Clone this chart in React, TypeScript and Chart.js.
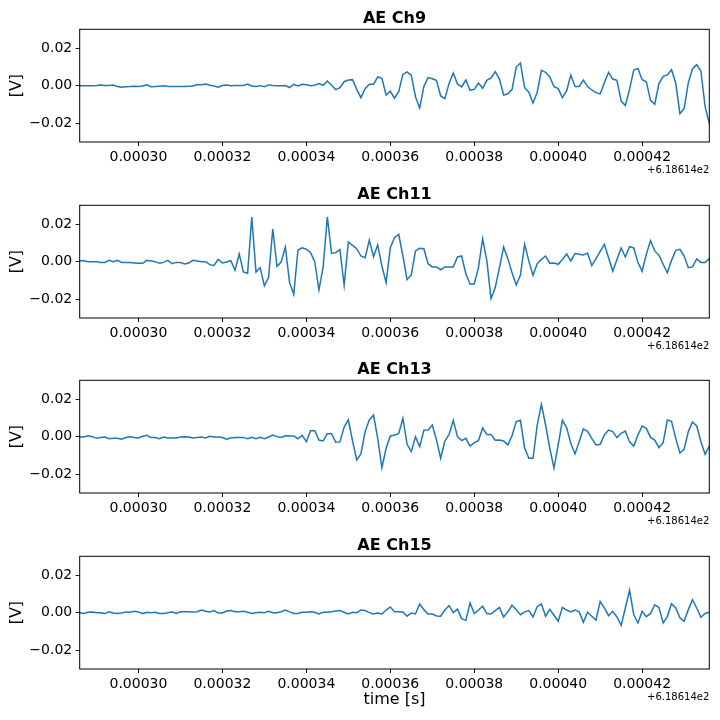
import React, { useEffect, useRef } from "react";
import { Chart, registerables } from "chart.js";

Chart.register(...registerables);

// ---- data (time in µs after offset 6.18614e2 s, values in mV) ----
const channelTitles = ["AE Ch9", "AE Ch11", "AE Ch13", "AE Ch15"];
const sampleTimesUs = Array.from({ length: 151 }, (_, i) => 286 + i);
const xTicksUs = [300, 320, 340, 360, 380, 400, 420];
const yTicksV = [-0.02, 0, 0.02];
const offsetLabel = "+6.18614e2";
const xAxisTitle = "time [s]";
const yAxisTitle = "[V]";

const ch9mV = [
  0, 0, 0, 0, 0.1, 0.3, 0.1, 0.1, 0.3, -0.4, -0.8, -0.6, -0.5, -0.3, -0.5, -0.2, 0.4, -0.6, -0.5, -0.3, -0.1, -0.5, -0.5, -0.5, -0.5, -0.5, -0.3, -0.2, 0.6, 0.5, 0.9, 0.2, -0.2, -0.8, 0.1, 0.4, -0.1, 0.1, 0.1, 0.1, 0.9, -0.2, -0.5, 0, -0.6, 0.4, 0.1, 0, 0, 0.1, -1.0,
  0.7, -0.2, 0.7, 0.5, 0, 0.2, 1.1, 0.2, 2.5, 0.2, -2.1, -1.1, 2.1, 3.0, 3.2, -2.0, -6.4, -1.6, 0.7, 0.7, 4.6, 3.9, -5.0, -3.0, -6.7, -3.2, 6.0, 7.3, 5.5, -5.9, -11.9, -0.4, 4.3, 3.7, 2.8, -5.5, -6.9, 1.2, 6.7, 0.9, -0.7, 3.0, -2.5, -2.0, 1.4, -1.4, 2.8, 4.1, 7.4, 3.5,
  -5.0, -4.3, -2.1, 9.9, 12.1, -1.1, -3.5, -9.2, -3.5, 8.2, 7.1, 4.6, -0.5, -1.6, -6.4, -2.8, 5.7, -0.5, -0.4, 3.0, -0.5, -2.3, -3.7, -4.4, 1.6, 7.1, 3.5, 2.8, -8.2, -10.6, -2.0, 8.3, 9.2, 3.2, 2.1, -7.8, -9.9, 1.1, 5.0, 5.7, 8.5, 1.4, -14.9, -12.2, 1.6, 9.0, 11.2, 7.8, -11.2, -20.2,
];

const ch11mV = [
  0.5, 0.5, 0, 0, 0, -0.5, -0.4, 0.7, 0, 0.7, -0.4, -0.4, -0.5, -0.7, -0.9, -0.9, 0.7, 0.4, 0, -0.9, -0.4, 0.7, -1.1, -0.4, -0.5, -1.2, -0.7, 0.7, 0.4, 0, 0, -1.6, -2.0, 1.2, -0.7, -0.2, 0.5, -4.6, 4.1, -5.5, -6.2, 23.8, -5.5, -3.2, -12.9, -8.3, 17.4, -2.5, -0.2, 7.8, -11.2,
  -17.4, 6.2, 7.4, 6.6, 4.8, 0, -15.1, -2.8, 23.9, 4.4, 4.8, 6.4, -12.6, 10.5, 8.7, 6.9, 3.0, 2.1, 11.5, 2.7, 8.9, -2.3, -11.2, 7.4, 12.8, 14.5, 3.0, -9.6, -7.1, 5.7, 7.1, 6.9, -1.1, -2.8, -2.8, -4.3, -2.8, -2.8, -2.8, 2.5, 3.0, -6.4, -11.9, -11.9, -3.2, 12.2, 0.4, -19.7, -13.8, -3.2,
  7.8, 1.6, -5.9, -12.4, -7.1, 9.2, 0.4, -7.3, -1.1, 1.2, 3.0, -0.9, -0.7, -1.4, 1.1, 4.1, 0.4, 4.3, 3.9, 3.5, 4.6, -2.1, 1.6, 5.5, 9.2, 2.1, -5.0, 1.2, 7.3, 2.5, 8.0, 7.3, -0.5, -5.1, 3.9, 11.2, 5.7, 3.5, -1.4, -5.9, 0.7, 6.0, 6.6, 3.0, -3.2, -2.8, 1.4, -0.4, -0.5, 1.6,
];

const ch13mV = [
  -0.2, -0.2, 0.5, 0, -0.9, -0.5, -0.2, -1.1, -0.9, -0.9, -1.4, -0.5, 0, -0.5, -0.7, 0.2, 0.7, -0.5, -0.5, -1.1, -0.2, -0.7, -0.7, -0.7, -0.2, 0, -0.2, -0.7, -0.5, -0.2, -0.7, 0.2, -0.2, -0.2, -0.5, -1.4, -0.7, -0.5, -0.5, -0.4, -1.1, -0.4, -1.1, -0.4, -1.1, -0.2, 0.9, 0, -0.4, 0.5, 0.4,
  0.4, -1.1, 0.7, -2.7, 3.2, 3.2, -1.8, -2.3, 1.6, 1.6, -3.0, -2.8, 5.1, 8.9, -2.3, -12.4, -9.2, 2.7, 8.9, 11.5, -0.9, -16.5, -6.2, 0.4, 0.9, 1.6, 9.8, -4.1, -8.0, 0, -5.3, 3.4, 3.5, 6.2, -1.8, -11.5, -2.3, 1.2, 8.7, 0, -2.1, -0.9, -5.0, -3.2, -2.1, 4.6, 1.2, 1.2, -1.9, -1.8,
  -2.3, -4.4, 0.5, 8.0, 8.7, -5.9, -11.5, -11.5, 6.2, 17.2, 6.2, -6.2, -16.8, -4.4, 8.7, 4.8, -3.5, -9.2, -2.7, 4.1, 2.8, -0.9, -4.4, -4.1, 0.9, 3.5, 2.7, -0.5, 1.8, 3.0, -2.7, -5.0, 0.9, 5.7, 4.4, -0.4, -1.8, -5.9, -3.2, 8.9, 8.2, -0.9, -8.7, -6.7, 2.7, 7.8, 5.7, -2.7, -9.4, -5.0,
];

const ch15mV = [
  0, -0.4, 0.2, 0.4, 0, 0, -0.5, 0.4, -0.2, -0.4, -0.2, 0.4, 0.2, 0.7, 0.4, -0.5, 0.2, 0, 0.2, -0.4, -0.4, 0, 0.5, -0.4, 0.5, 0.5, 0.5, 0.4, 0.5, 1.4, 0.7, 0.4, 1.1, -0.2, -0.2, 0.9, 1.1, 0.5, 0.5, 0.7, 0.2, -0.5, 0, 0.2, 0, 0.7, 0, 0, 0.5, 1.4, 0.4,
  -0.4, -0.4, 0.2, 0.2, 0.5, 0.2, -0.7, 0.2, 0.2, 0.5, 0.9, 1.1, 0.2, -0.7, 0.2, 0, 1.4, 1.1, 0, -0.7, -0.2, -0.7, 1.4, 3.0, 0.5, 0.5, 0.4, -1.9, -0.2, -0.7, 4.6, 1.6, -0.7, -0.7, -1.8, -1.9, 1.4, 3.7, 0, 1.9, -3.2, -4.1, 5.1, -0.5, 1.4, 3.4, -0.5, -0.7, 1.1, 2.8,
  -2.3, 0.4, 3.9, 1.6, -1.1, 0.4, 1.1, -2.3, 3.2, 4.6, -1.9, 1.8, -1.4, -4.6, 2.8, 1.4, 0.4, 1.4, 0.4, -5.1, 0.2, -1.9, -3.9, 5.9, 2.5, -1.6, 0.7, -2.3, -6.7, 2.5, 11.9, -1.1, -5.5, 0.7, -2.1, -0.4, 4.2, 2.8, -5.5, -2.1, 4.8, 2.5, -2.8, -4.6, 1.6, 6.9, 2.5, -2.5, -0.4, 0.2,
];

const channelValues = [ch9mV, ch11mV, ch13mV, ch15mV];

// ---- layout ----
const FONT = '"DejaVu Sans", sans-serif';
const W = 720;
const PLOT_LEFT = 79.7;
const PLOT_RIGHT = 709.3;
const PAD_TOP = 29.3;
const PLOT_H = 112.7;
const CANVAS_TOPS = [0, 176, 351, 527];
const CANVAS_HEIGHTS = [178, 178, 178, 193];

function fmtY(v: number) {
  const s = Math.abs(v) < 1e-12 ? "0.00" : v.toFixed(2);
  return s.replace("-", "\u2212");
}

function Panel(props: { idx: number }) {
  const { idx } = props;
  const ref = useRef<HTMLCanvasElement | null>(null);
  const height = CANVAS_HEIGHTS[idx];
  const isLast = idx === channelTitles.length - 1;

  useEffect(() => {
    const canvas = ref.current;
    if (!canvas) return;
    const values = channelValues[idx];
    const title = channelTitles[idx];

    const framePlugin = {
      id: "mplFrame",
      afterDraw(chart: any) {
        const { ctx, chartArea } = chart;
        const { left, right, top, bottom } = chartArea;
        ctx.save();
        ctx.strokeStyle = "#000";
        ctx.lineWidth = 1;
        ctx.strokeRect(left, top, right - left, bottom - top);
        ctx.fillStyle = "#000";
        // title
        ctx.font = `bold 16px ${FONT}`;
        ctx.textAlign = "center";
        ctx.textBaseline = "alphabetic";
        ctx.fillText(title, (left + right) / 2, top - 6);
        // y label
        ctx.save();
        ctx.translate(17, (top + bottom) / 2);
        ctx.rotate(-Math.PI / 2);
        ctx.font = `16px ${FONT}`;
        ctx.textAlign = "center";
        ctx.textBaseline = "middle";
        ctx.fillText(yAxisTitle, 0, 0);
        ctx.restore();
        // offset text
        ctx.font = `10px ${FONT}`;
        ctx.textAlign = "right";
        ctx.textBaseline = "middle";
        ctx.fillText(offsetLabel, right, bottom + 28);
        // x label
        if (isLast) {
          ctx.font = `16px ${FONT}`;
          ctx.textAlign = "center";
          ctx.textBaseline = "middle";
          ctx.fillText(xAxisTitle, (left + right) / 2, bottom + 31);
        }
        ctx.restore();
      },
    };

    const chart = new Chart(canvas, {
      type: "line",
      data: {
        datasets: [
          {
            data: sampleTimesUs.map((t, i) => ({ x: t, y: values[i] / 1000 })),
            borderColor: "#1f77b4",
            borderWidth: 1.5,
            pointRadius: 0,
            tension: 0,
            fill: false,
          },
        ],
      },
      options: {
        animation: false,
        responsive: false,
        events: [],
        layout: { padding: { left: 0, right: W - PLOT_RIGHT, top: PAD_TOP, bottom: 0 } },
        plugins: {
          legend: { display: false },
          tooltip: { enabled: false },
          title: { display: false },
        },
        scales: {
          x: {
            type: "linear",
            min: sampleTimesUs[0],
            max: sampleTimesUs[sampleTimesUs.length - 1],
            afterBuildTicks: (s: any) => {
              s.ticks = xTicksUs.map((v) => ({ value: v }));
            },
            afterFit: (s: any) => {
              s.height = height - PAD_TOP - PLOT_H;
            },
            grid: {
              display: true,
              drawOnChartArea: false,
              drawTicks: true,
              tickLength: 4,
              color: "#000",
              lineWidth: 1,
            },
            border: { display: false },
            ticks: {
              color: "#000",
              font: { family: FONT, size: 14 },
              padding: 3,
              maxRotation: 0,
              autoSkip: false,
              callback: (v: any) => (Number(v) / 1e6).toFixed(5),
            },
          },
          y: {
            type: "linear",
            min: -0.03,
            max: 0.03,
            afterBuildTicks: (s: any) => {
              s.ticks = yTicksV.map((v) => ({ value: v }));
            },
            afterFit: (s: any) => {
              s.width = PLOT_LEFT;
            },
            grid: {
              display: true,
              drawOnChartArea: false,
              drawTicks: true,
              tickLength: 4,
              color: "#000",
              lineWidth: 1,
            },
            border: { display: false },
            ticks: {
              color: "#000",
              font: { family: FONT, size: 14 },
              padding: 3.5,
              autoSkip: false,
              callback: (v: any) => fmtY(Number(v)),
            },
          },
        },
      } as any,
      plugins: [framePlugin as any],
    });
    return () => chart.destroy();
  }, [idx, height, isLast]);

  return (
    <canvas
      ref={ref}
      width={W}
      height={height}
      style={{ position: "absolute", left: 0, top: CANVAS_TOPS[idx], width: W, height }}
    />
  );
}

export default function App() {
  return (
    <div
      style={{
        position: "absolute",
        left: 0,
        top: 0,
        width: 720,
        height: 720,
        background: "#fff",
        overflow: "hidden",
      }}
    >
      {channelTitles.map((_, i) => (
        <Panel key={i} idx={i} />
      ))}
    </div>
  );
}
